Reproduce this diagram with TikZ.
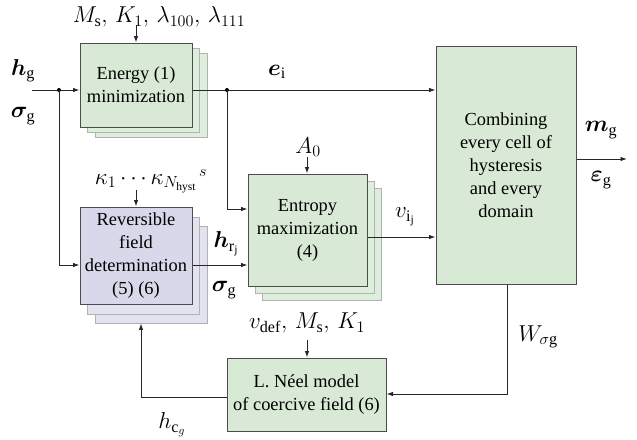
\RequirePackage{fix-cm}
\documentclass[tikz,border=0pt]{standalone}
\usepackage{amsmath,bm}
\usepackage{fontspec}
\setmainfont{Liberation Serif}
\newfontfamily\tnr{Liberation Serif}
\usetikzlibrary{arrows.meta,calc}
\definecolor{gfill}{RGB}{216,234,213}
\definecolor{gshad}{RGB}{222,238,220}
\definecolor{pfill}{RGB}{216,216,234}
\definecolor{pshad}{RGB}{226,226,241}
\begin{document}
\begin{tikzpicture}[x=1pt,y=-1pt,
  every node/.style={font=\tnr\fontsize{18.4}{23}\selectfont},
  mlabel/.style={font=\tnr\fontsize{23}{27}\selectfont},
  frontbox/.style={draw=black!70,line width=1pt,inner sep=0pt,align=center},
  shadbox/.style={draw=black!30,line width=0.8pt,inner sep=0pt},
  conn/.style={draw=black!85,line width=0.9pt},
  arr/.style={conn,-{Latex[length=6.5pt,width=4.5pt]}},
  dot/.style={circle,fill=black,inner sep=0pt,minimum size=4pt}
]
\useasboundingbox (0,0) rectangle (637,439);

% energy block
\node[shadbox,fill=gshad,minimum width=112,minimum height=84] (en3) at (151,95) {};
\node[shadbox,fill=gshad,minimum width=112,minimum height=84] (en2) at (143,90) {};
\node[frontbox,fill=gfill,minimum width=112,minimum height=84] (en) at (136,85) {Energy (1)\\minimization};

% reversible block
\node[shadbox,fill=pshad,minimum width=112,minimum height=97] (rv3) at (151,274.5) {};
\node[shadbox,fill=pshad,minimum width=112,minimum height=97] (rv2) at (143,265.5) {};
\node[frontbox,fill=pfill,minimum width=112,minimum height=97] (rv) at (136,255.5) {Reversible\\field\\determination\\(5)\ (6)};

% entropy block
\node[shadbox,fill=gshad,minimum width=119,minimum height=112] (ep3) at (321.5,244.5) {};
\node[shadbox,fill=gshad,minimum width=119,minimum height=112] (ep2) at (314.5,237.5) {};
\node[frontbox,fill=gfill,minimum width=119,minimum height=112] (ep) at (307.5,230) {Entropy\\maximization\\(4)};

% combining block
\node[frontbox,fill=gfill,minimum width=140,minimum height=238] (cb) at (506,165) {Combining\\every cell of\\hysteresis\\and every\\domain};

% Neel block
\node[frontbox,fill=gfill,minimum width=159,minimum height=73] (ne) at (306.5,394.5) {L. N\'eel model\\of coercive field (6)};

% labels
\node[mlabel] (lpar) at (159,17) {$M_\mathrm{s},\,K_1,\,\lambda_{100},\,\lambda_{111}$};
\node[mlabel] (lkap) at (151,181) {$\kappa_1\cdots\kappa_{N_\mathrm{hyst}}{}^{\,s}$};
\node[mlabel] (la0) at (308,147) {$A_0$};
\node[mlabel] (lvd) at (307,323) {$v_\mathrm{def},\,M_\mathrm{s},\,K_1$};
\node[mlabel] (lhg) at (23,71) {$\bm{h}_\mathrm{g}$};
\node[mlabel] (lsg) at (23,116) {$\bm{\sigma}_\mathrm{g}$};
\node[mlabel] (lei) at (277,72) {$\bm{e}_\mathrm{i}$};
\node[mlabel] (lhr) at (226,244) {$\bm{h}_{\mathrm{r}_\mathrm{j}}$};
\node[mlabel] (lsg2) at (224,290) {$\bm{\sigma}_\mathrm{g}$};
\node[mlabel] (lvi) at (405,217) {$v_{\mathrm{i}_\mathrm{j}}$};
\node[mlabel] (lmg) at (601,130) {$\bm{m}_\mathrm{g}$};
\node[mlabel] (leg) at (601,180) {$\bm{\varepsilon}_\mathrm{g}$};
\node[mlabel] (lw) at (538,337) {$W_{\sigma\mathrm{g}}$};
\node[mlabel] (lhc) at (172,425) {$h_{\mathrm{c}_g}$};

% coordinates
\coordinate (in) at (32,90);
\coordinate (j1) at (59,90);
\coordinate (j2) at (227,90);
\coordinate (yA) at (0,265);
\coordinate (yB) at (0,209);
\coordinate (yC) at (0,237);
\coordinate (yD) at (0,159);
\coordinate (yE) at (0,394);
\coordinate (yF) at (0,397);
\coordinate (xW) at (507,0);
\coordinate (xH) at (141,0);
\coordinate (out) at (627,159);
\coordinate (tpar) at (136,25);
\coordinate (tkap) at (136,190);
\coordinate (ta0) at (307,157);
\coordinate (tvd) at (307,340);

% connectors
\draw[arr] (in) -- (en.west |- in);
\draw[arr] (en.east |- in) -- (cb.west |- in);
\node[dot] at (j1) {};
\node[dot] at (j2) {};
\draw[arr] (j1) |- (rv.west |- yA);
\draw[arr] (rv.east |- yA) -- (ep.west |- yA);
\draw[arr] (j2) |- (ep.west |- yB);
\draw[arr] (ep.east |- yC) -- (cb.west |- yC);
\draw[arr] (cb.east |- yD) -- (out);
\draw[arr] (cb.south -| xW) |- (ne.east |- yE);
\draw[arr] (ne.west |- yF) -| (rv3.south -| xH);
\draw[arr] (tpar) -- (en.north);
\draw[arr] (tkap) -- (rv.north);
\draw[arr] (ta0) -- (ep.north -| ta0);
\draw[arr] (tvd) -- (ne.north -| tvd);
\end{tikzpicture}
\end{document}
